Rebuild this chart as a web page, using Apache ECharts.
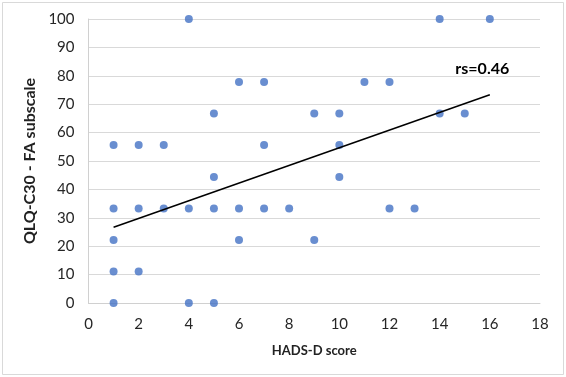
<!DOCTYPE html>
<html><head><meta charset="utf-8">
<script src="https://cdn.jsdelivr.net/npm/echarts@6/dist/echarts.min.js"></script>
<style>html,body{margin:0;padding:0;background:#fff}#c{width:566px;height:377px}</style>
</head><body><div id="c"></div>
<script>
var hadsScores = [1,1,1,1,1, 2,2,2, 3,3, 4,4,4, 5,5,5,5, 6,6,6, 7,7,7, 8, 9,9, 10,10,10, 11, 12,12, 13, 14,14, 15, 16];
var faValues   = [55.6,33.3,22.2,11.1,0, 55.6,33.3,11.1, 55.6,33.3, 100,33.3,0, 66.7,44.4,33.3,0, 77.8,33.3,22.2, 77.8,55.6,33.3, 33.3, 66.7,22.2, 66.7,55.6,44.4, 77.8, 77.8,33.3, 33.3, 100,66.7, 66.7, 100];
var trendX = [1, 16];
var trendY = [26.7, 73.3];
var xTicks = [0,2,4,6,8,10,12,14,16,18];
var yTicks = [0,10,20,30,40,50,60,70,80,90,100];
var annotation = 'rs=0.46';

var pts = hadsScores.map(function(x,i){return [x, faValues[i]];});
var trend = trendX.map(function(x,i){return [x, trendY[i]];});
var font = 'Lato, "Open Sans", sans-serif';
var chart = echarts.init(document.getElementById('c'));
chart.setOption({
  animation:false,
  backgroundColor:'#fff',
  grid:{left:88.5,right:26,top:19,bottom:74},
  xAxis:{type:'value',min:xTicks[0],max:xTicks[xTicks.length-1],interval:2,
    name:'HADS-D score',nameLocation:'middle',nameGap:41,
    nameTextStyle:{fontFamily:font,fontWeight:'bold',fontSize:13,color:'#222'},
    axisLine:{show:true,lineStyle:{color:'#d0d0d0'}},axisTick:{show:false},
    axisLabel:{fontFamily:font,fontSize:15,color:'#262626',margin:14},
    splitLine:{show:false}},
  yAxis:{type:'value',min:yTicks[0],max:yTicks[yTicks.length-1],interval:10,
    name:'QLQ-C30 - FA subscale',nameLocation:'middle',nameGap:49,
    nameTextStyle:{fontFamily:font,fontWeight:'bold',fontSize:16,color:'#222'},
    axisLine:{show:true,lineStyle:{color:'#d0d0d0'}},axisTick:{show:false},
    axisLabel:{fontFamily:font,fontSize:15,color:'#262626',margin:14},
    splitLine:{show:true,lineStyle:{color:'#d9d9d9',width:1}}},
  series:[
    {type:'scatter',data:pts,symbolSize:8,itemStyle:{color:'#4472C4'},z:3},
    {type:'line',data:trend,symbol:'none',lineStyle:{color:'#000',width:1.5},z:4,
     markPoint:{symbol:'circle',symbolSize:0,
       data:[{coord:[15.7,82.5],label:{show:true,formatter:annotation,fontFamily:font,fontWeight:'bold',fontSize:16,color:'#000'}}]}}
  ],
  graphic:[{type:'rect',shape:{x:2.5,y:2.5,width:561,height:372},style:{fill:null,stroke:'#d9d9d9',lineWidth:1},silent:true,z:-1}]
});
</script></body></html>
